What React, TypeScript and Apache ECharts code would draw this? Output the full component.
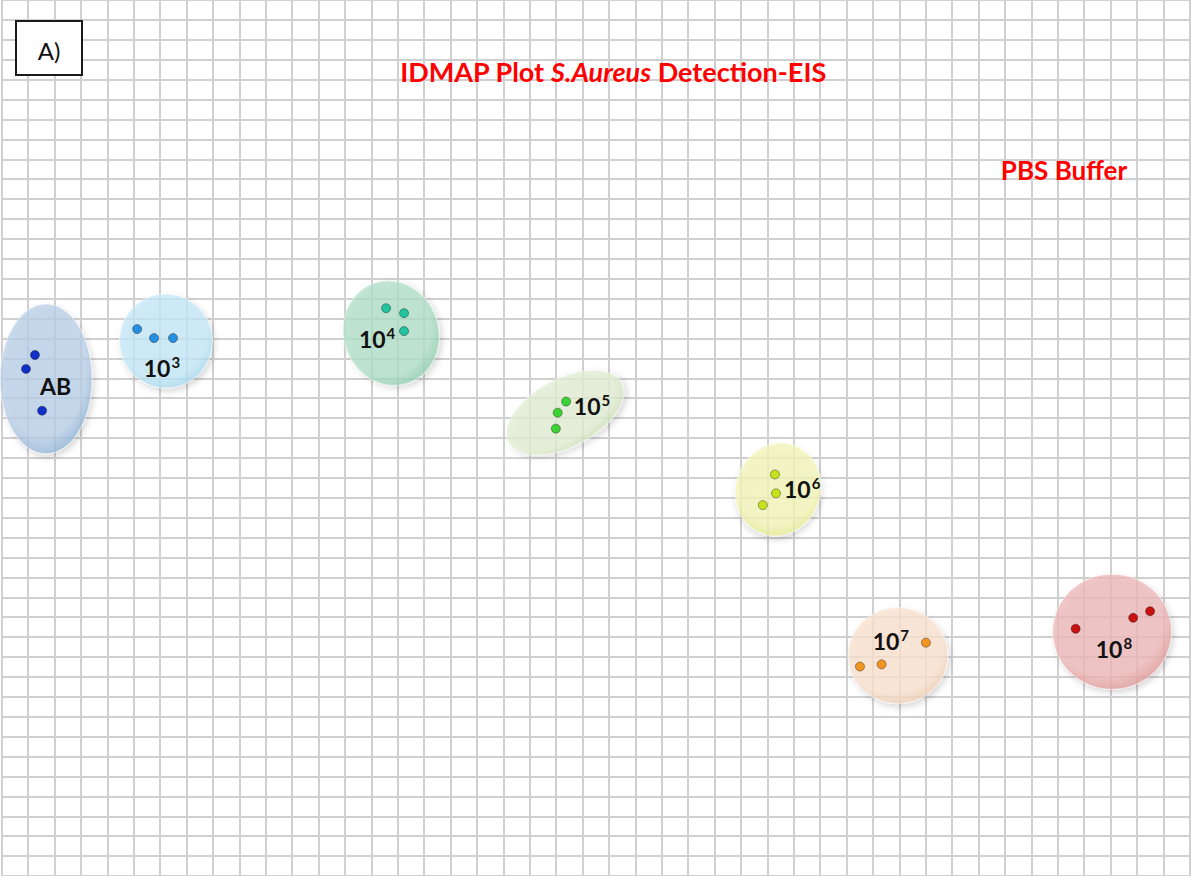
import React, { useEffect, useRef } from "react";
import * as echarts from "echarts";

// ---- Data (grid-cell units: x to the right, y upward) ----
const clusterNames = ["AB", "10^3", "10^4", "10^5", "10^6", "10^7", "10^8"];
const labelBase = ["AB", "10", "10", "10", "10", "10", "10"];
const labelExp = ["", "3", "4", "5", "6", "7", "8"];

const pointsAB = [[1.26, 26.17], [0.92, 25.47], [1.53, 23.37]];
const points1e3 = [[5.13, 27.47], [5.77, 27.02], [6.49, 27.02]];
const points1e4 = [[14.56, 28.52], [15.24, 28.27], [15.24, 27.37]];
const points1e5 = [[21.38, 23.83], [21.06, 23.27], [20.99, 22.47]];
const points1e6 = [[29.29, 20.17], [29.33, 19.22], [28.83, 18.63]];
const points1e7 = [[35.01, 11.72], [33.33, 10.63], [32.51, 10.52]];
const points1e8 = [[40.68, 12.42], [42.86, 12.97], [43.5, 13.3]];
const clusterPoints = [pointsAB, points1e3, points1e4, points1e5, points1e6, points1e7, points1e8];

// cluster ellipse: centre x, centre y, semi-axis a, semi-axis b (x units), angle (deg, ccw)
const clusterCenterX = [1.68, 6.22, 14.75, 21.34, 29.41, 33.95, 42.06];
const clusterCenterY = [24.97, 26.87, 27.27, 23.27, 19.42, 11.07, 12.27];
const clusterSemiA = [1.74, 1.76, 1.8, 2.42, 1.6, 1.89, 2.25];
const clusterSemiB = [2.84, 1.78, 2.0, 1.29, 1.78, 1.82, 2.18];
const clusterAngle = [0, 0, 18, 28, -20, 0, 0];

// ---- Layout / style ----
const labelAnchor = [[2.04, 24.62], [6.07, 25.5], [14.22, 26.95], [22.36, 23.6], [30.32, 19.45], [33.68, 11.82], [42.13, 11.4]];
const pointColors = ["#1230c8", "#2590e2", "#22c4a0", "#3dd233", "#c6e21c", "#f29422", "#c81212"];
const fillInner = [
  "rgba(186,208,232,0.76)", "rgba(196,232,248,0.75)", "rgba(176,224,200,0.76)",
  "rgba(226,238,212,0.78)", "rgba(244,246,186,0.78)", "rgba(250,226,208,0.78)", "rgba(238,184,184,0.78)",
];
const fillOuter = [
  "rgba(136,176,212,0.82)", "rgba(160,214,238,0.8)", "rgba(136,202,170,0.82)",
  "rgba(204,224,182,0.82)", "rgba(228,234,140,0.82)", "rgba(238,204,178,0.82)", "rgba(220,146,146,0.82)",
];

const FONT = "Lato";

export default function App() {
  const ref = useRef<HTMLDivElement>(null);

  useEffect(() => {
    if (!ref.current) return;
    const chart = echarts.init(ref.current, null, { renderer: "svg" });

    const ellipseData = clusterNames.map((_, i) => [
      clusterCenterX[i], clusterCenterY[i], clusterSemiA[i], clusterSemiB[i], clusterAngle[i], i,
    ]);
    const labelData = labelAnchor.map((p, i) => ({ value: [p[0], p[1]], idx: i }));

    const scatterSeries = clusterPoints.map((pts, i) => ({
      type: "scatter",
      name: clusterNames[i],
      data: pts,
      symbolSize: 9,
      z: 3,
      itemStyle: { color: pointColors[i], borderColor: "rgba(0,0,0,0.45)", borderWidth: 0.8, opacity: 1 },
    }));

    const option: any = {
      animation: false,
      backgroundColor: "#ffffff",
      grid: { left: 1.7, top: -0.7, width: 1188, height: 880, containLabel: false },
      xAxis: {
        type: "value", min: 0, max: 45, interval: 1,
        axisLine: { show: false }, axisTick: { show: false }, axisLabel: { show: false },
        splitLine: { show: true, lineStyle: { color: "#d0d0d0", width: 2 } },
      },
      yAxis: {
        type: "value", min: 0, max: 44, interval: 1,
        axisLine: { show: false }, axisTick: { show: false }, axisLabel: { show: false },
        splitLine: { show: true, lineStyle: { color: "#d0d0d0", width: 2 } },
      },
      series: [
        {
          type: "custom",
          name: "clusters",
          z: 1,
          data: ellipseData,
          renderItem: (params: any, api: any) => {
            const c = api.coord([api.value(0), api.value(1)]);
            const ux = api.size([1, 0])[0];
            const i = api.value(5);
            const a = api.value(2) * ux;
            const b = api.value(3) * ux;
            return {
              type: "group",
              x: c[0],
              y: c[1],
              rotation: (api.value(4) * Math.PI) / 180,
              children: [
                {
                  type: "ellipse",
                  shape: { cx: 0, cy: 0, rx: a, ry: b },
                  style: {
                    fill: new echarts.graphic.RadialGradient(0.45, 0.4, 0.65, [
                      { offset: 0, color: fillInner[i] },
                      { offset: 0.75, color: fillInner[i] },
                      { offset: 1, color: fillOuter[i] },
                    ]),
                    stroke: "rgba(255,255,255,0.5)",
                    lineWidth: 1,
                    shadowBlur: 6,
                    shadowOffsetX: 2,
                    shadowOffsetY: 3,
                    shadowColor: "rgba(0,0,0,0.2)",
                  },
                },
              ],
            };
          },
        },
        ...scatterSeries,
        {
          type: "scatter",
          name: "labels",
          z: 4,
          symbolSize: 1,
          itemStyle: { color: "rgba(0,0,0,0)", opacity: 1 },
          emphasis: { disabled: true },
          data: labelData,
          label: {
            show: true,
            position: "inside",
            color: "#111111",
            opacity: 1,
            textBorderWidth: 0,
            formatter: (p: any) => {
              const i = p.data.idx;
              return labelExp[i] ? `{b|${labelBase[i]}}{s|${labelExp[i]}}` : `{b|${labelBase[i]}}`;
            },
            rich: {
              b: {
                fontFamily: FONT, fontWeight: "bold", fontSize: 23, color: "#111111",
                lineHeight: 26, textBorderWidth: 0,
              },
              s: {
                fontFamily: FONT, fontWeight: "bold", fontSize: 15, color: "#111111",
                lineHeight: 16, padding: [0, 0, 12, 1], textBorderWidth: 0,
              },
            },
          },
        },
      ],
      graphic: [
        {
          type: "rect",
          shape: { x: 16, y: 21, width: 66, height: 54 },
          style: { fill: "#ffffff", stroke: "#1a1a1a", lineWidth: 2 },
          z: 10,
        },
        {
          type: "text",
          x: 49, y: 50,
          style: { text: "A)", font: `24px ${FONT}`, fill: "#111", align: "center", verticalAlign: "middle" },
          z: 11,
        },
        {
          type: "text",
          x: 613, y: 71,
          style: {
            text: "{n|IDMAP Plot }{i|S.Aureus}{n| Detection-EIS}",
            align: "center",
            verticalAlign: "middle",
            rich: {
              n: { fontFamily: FONT, fontWeight: "bold", fontSize: 27, fill: "#ff0000" },
              i: { fontFamily: FONT, fontWeight: "bold", fontStyle: "italic", fontSize: 27, fill: "#ff0000" },
            },
          },
          z: 11,
        },
        {
          type: "text",
          x: 1064, y: 170,
          style: {
            text: "PBS Buffer", font: `bold 26px ${FONT}`, fill: "#ff0000",
            align: "center", verticalAlign: "middle",
          },
          z: 11,
        },
      ],
    };

    chart.setOption(option);
    return () => chart.dispose();
  }, []);

  return (
    <div
      ref={ref}
      style={{ position: "fixed", left: 0, top: 0, width: 1192, height: 876, background: "#fff" }}
    />
  );
}
